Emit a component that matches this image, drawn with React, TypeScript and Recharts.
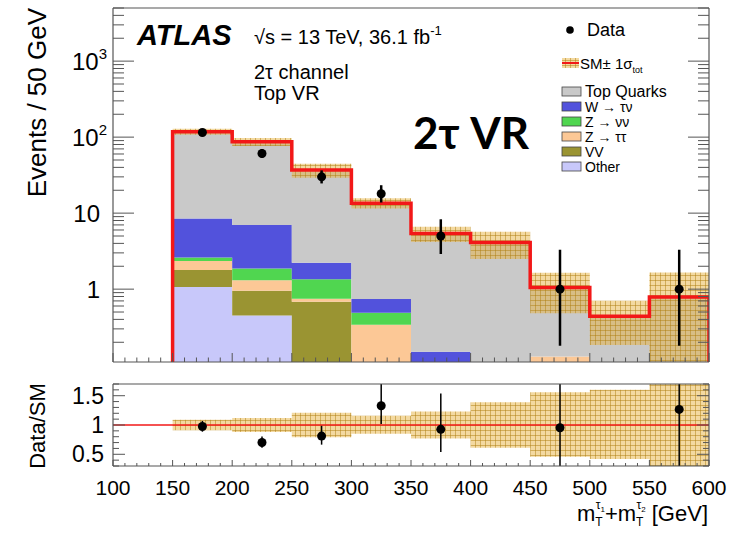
import React from 'react';
import { ComposedChart, Area, Line, Scatter, ErrorBar, XAxis, YAxis, ReferenceLine } from 'recharts';

// bins of m_T(tau1)+m_T(tau2), 50 GeV wide
const BIN_LOW = [150, 200, 250, 300, 350, 400, 450, 500, 550];
const X_MAX = 600;

// stacked backgrounds, events per bin (bottom of the stack first)
const OTHER = [1.07, 0.45, 0.05, 0, 0, 0, 0, 0, 0];
const VV = [0.71, 0.5, 0.63, 0, 0, 0, 0, 0, 0];
const Z_TAUTAU = [0.56, 0.36, 0.07, 0.34, 0, 0, 0.13, 0, 0];
const Z_NUNU = [0.26, 0.56, 0.6, 0.15, 0, 0, 0, 0, 0];
const W_TAUNU = [5.9, 5.1, 0.87, 0.25, 0.15, 0, 0, 0, 0];
const TOP_QUARKS = [109.5, 80, 34.8, 12.8, 5.25, 4.1, 0.92, 0.44, 0.79];

// observed data with asymmetric errors
const DATA = [115, 61, 30, 18, 5, null, 1, null, 1];
const DATA_ERR_DOWN = [10.5, 7.8, 5.4, 4.2, 2.1, null, 0.82, null, 0.82];
const DATA_ERR_UP = [11.2, 8.8, 6.5, 5.3, 3.3, null, 2.3, null, 2.3];

// SM +- 1 sigma_tot band, relative to SM
const BAND_LO = [0.91, 0.88, 0.79, 0.85, 0.77, 0.61, 0.46, 0.42, 0.14];
const BAND_HI = [1.09, 1.12, 1.21, 1.16, 1.23, 1.39, 1.56, 1.6, 2.1];

const X_MAJOR = [100, 150, 200, 250, 300, 350, 400, 450, 500, 550, 600];
const LOG_MAJOR = [1, 10, 100, 1000];
const RATIO_MAJOR = [0.5, 1, 1.5];

const Y_DOMAIN: [number, number] = [0.11, 5000];
const RATIO_DOMAIN: [number, number] = [0.3, 1.7];
const FLOOR = 0.01;

const FONT = "'Liberation Sans', Arial, Helvetica, sans-serif";
const AXIS_COLOR = '#555';
const RED = '#f21818';

const STACK = [
  { key: 'other', name: 'Other', values: OTHER, color: '#c8c8fa' },
  { key: 'vv', name: 'VV', values: VV, color: '#9a9432' },
  { key: 'ztt', name: 'Z → ττ', values: Z_TAUTAU, color: '#fcc896' },
  { key: 'znn', name: 'Z → νν', values: Z_NUNU, color: '#50d650' },
  { key: 'wtn', name: 'W → τν', values: W_TAUNU, color: '#5252dc' },
  { key: 'top', name: 'Top Quarks', values: TOP_QUARKS, color: '#c9c9c9' },
];

const totals = BIN_LOW.map((_, i) => STACK.reduce((s, c) => s + c.values[i], 0));

const rows = BIN_LOW.concat([X_MAX]).map((x, j) => {
  const i = Math.min(j, BIN_LOW.length - 1);
  const row: any = { x };
  let cum = 0;
  STACK.forEach(s => {
    const lo = cum;
    cum += s.values[i];
    row[s.key] = [Math.max(lo, FLOOR), Math.max(cum, FLOOR)];
  });
  row.band = [Math.max(cum * BAND_LO[i], FLOOR), cum * BAND_HI[i]];
  row.ratioBand = [BAND_LO[i], BAND_HI[i]];
  return row;
});

const redLine = [
  { x: BIN_LOW[0], v: FLOOR },
  ...BIN_LOW.map((x, i) => ({ x, v: totals[i] })),
  { x: X_MAX, v: totals[totals.length - 1] },
  { x: X_MAX, v: FLOOR },
];

const dataPoints = BIN_LOW.map((x, i) => ({ x: x + 25, y: DATA[i], err: [DATA_ERR_DOWN[i], DATA_ERR_UP[i]] }))
  .filter(p => p.y !== null);

// ratio points; error bars stop at the panel frame
const ratioPoints = BIN_LOW.map((x, i) => {
  if (DATA[i] === null) return null;
  const r = (DATA[i] as number) / totals[i];
  const down = Math.min((DATA_ERR_DOWN[i] as number) / totals[i], r - RATIO_DOMAIN[0]);
  const up = Math.min((DATA_ERR_UP[i] as number) / totals[i], RATIO_DOMAIN[1] - r);
  return { x: x + 25, y: r, err: [down, up] };
}).filter(p => p !== null);

// tick positions (minor ones included)
const X_TICKS: number[] = [];
for (let v = 100; v <= 600; v += 10) X_TICKS.push(v);
const LOG_TICKS: number[] = [];
for (let e = -1; e <= 3; e++) {
  for (let m = 1; m <= 9; m++) {
    const v = Number((m * Math.pow(10, e)).toPrecision(3));
    if (v >= Y_DOMAIN[0] && v <= Y_DOMAIN[1]) LOG_TICKS.push(v);
  }
}
const RATIO_TICKS: number[] = [];
for (let k = 3; k <= 17; k++) RATIO_TICKS.push(k / 10);

type Side = 'bottom' | 'top' | 'left' | 'right';

const makeTick = (side: Side, majors: number[], majorLen: number, minorLen: number,
  label?: (v: number, x: number, y: number) => React.ReactNode) => (props: any) => {
  const { x, y, payload } = props;
  const v = payload.value;
  const major = majors.some(m => Math.abs(m - v) < 1e-6);
  const len = major ? majorLen : minorLen;
  let x2 = x, y2 = y;
  if (side === 'bottom') y2 = y - len;
  else if (side === 'top') y2 = y + len;
  else if (side === 'left') x2 = x + len;
  else x2 = x - len;
  return (
    <g>
      <line x1={x} y1={y} x2={x2} y2={y2} stroke={AXIS_COLOR} strokeWidth={1} />
      {major && label ? label(v, x, y) : null}
    </g>
  );
};

const logLabel = (v: number, x: number, y: number) => {
  const exp = Math.round(Math.log10(v));
  if (exp < 2) {
    return <text x={x - 13} y={y + 8.5} textAnchor="end" fontSize={24} fontFamily={FONT} fill="#000">{String(v)}</text>;
  }
  return (
    <text x={x - 6} y={y + 8.5} textAnchor="end" fontSize={24} fontFamily={FONT} fill="#000">
      10<tspan fontSize={15} dy={-11}>{exp}</tspan>
    </text>
  );
};

const ratioLabel = (v: number, x: number, y: number) => (
  <text x={x - 9} y={y + 8} textAnchor="end" fontSize={23} fontFamily={FONT} fill="#000">{String(v)}</text>
);

const xLabel = (v: number, x: number, y: number) => (
  <text x={x} y={y + 29} textAnchor="middle" fontSize={21} fontFamily={FONT} fill="#000">{String(v)}</text>
);

const frameAxis = { axisLine: { stroke: AXIS_COLOR, strokeWidth: 1.2 }, tickLine: false, tickSize: 0, tickMargin: 0, interval: 0 as const };

const dot = (p: any) => <circle cx={p.cx} cy={p.cy} r={4.5} fill="#000" />;

const LegendBox: React.FC<{ y: number; color: string; label: string; fs?: number }> = ({ y, color, label, fs = 14 }) => (
  <g>
    <rect x={562} y={y - 10} width={19} height={9} fill={color} stroke="#444" strokeWidth={0.8} />
    <text x={585} y={y} fontSize={fs} fontFamily={FONT} fill="#000">{label}</text>
  </g>
);

const App: React.FC = () => {
  return (
    <div style={{ position: 'absolute', left: 0, top: 0, width: 741, height: 534, background: '#fff', overflow: 'hidden' }}>
      <svg width={0} height={0} style={{ position: 'absolute' }}>
        <defs>
          <pattern id="smband" width={5} height={5} patternUnits="userSpaceOnUse">
            <rect width={5} height={5} fill="#e8b444" fillOpacity={0.5} />
            <path d="M0 0.5H5M0.5 0V5" stroke="#b07f12" strokeOpacity={0.5} strokeWidth={1} />
          </pattern>
        </defs>
      </svg>

      <div style={{ position: 'absolute', left: 0, top: 0 }}>
        <ComposedChart width={741} height={370} data={rows} margin={{ top: 7, right: 31, bottom: 7, left: 112 }}>
          <XAxis dataKey="x" type="number" domain={[100, X_MAX]} allowDataOverflow ticks={X_TICKS} height={1}
            {...frameAxis} tick={makeTick('bottom', X_MAJOR, 9, 4.5)} />
          <XAxis xAxisId="top" orientation="top" type="number" domain={[100, X_MAX]} allowDataOverflow ticks={X_TICKS} height={1}
            {...frameAxis} tick={makeTick('top', X_MAJOR, 9, 4.5)} />
          <YAxis type="number" scale="log" domain={Y_DOMAIN} allowDataOverflow ticks={LOG_TICKS} width={1}
            {...frameAxis} tick={makeTick('left', LOG_MAJOR, 21, 11, logLabel)} />
          <YAxis yAxisId="right" orientation="right" type="number" scale="log" domain={Y_DOMAIN} allowDataOverflow ticks={LOG_TICKS} width={1}
            {...frameAxis} tick={makeTick('right', LOG_MAJOR, 21, 11)} />
          {STACK.map(s => (
            <Area key={s.key} dataKey={s.key} type="stepAfter" stroke="none" fill={s.color} fillOpacity={1}
              isAnimationActive={false} dot={false} activeDot={false} />
          ))}
          <Area dataKey="band" type="stepAfter" stroke="none" fill="url(#smband)" fillOpacity={1}
            isAnimationActive={false} dot={false} activeDot={false} />
          <Line data={redLine} dataKey="v" type="stepAfter" stroke={RED} strokeWidth={3.5} dot={false}
            activeDot={false} isAnimationActive={false} />
          <Scatter data={dataPoints} dataKey="y" shape={dot} isAnimationActive={false}>
            <ErrorBar dataKey="err" direction="y" width={0} stroke="#000" strokeWidth={2.5} isAnimationActive={false} />
          </Scatter>
        </ComposedChart>
      </div>

      <div style={{ position: 'absolute', left: 0, top: 370 }}>
        <ComposedChart width={741} height={164} data={rows} margin={{ top: 13, right: 31, bottom: 67, left: 112 }}>
          <XAxis dataKey="x" type="number" domain={[100, X_MAX]} allowDataOverflow ticks={X_TICKS} height={1}
            {...frameAxis} tick={makeTick('bottom', X_MAJOR, 6, 3, xLabel)} />
          <XAxis xAxisId="top" orientation="top" type="number" domain={[100, X_MAX]} allowDataOverflow ticks={X_TICKS} height={1}
            {...frameAxis} tick={makeTick('top', X_MAJOR, 6, 3)} />
          <YAxis type="number" domain={RATIO_DOMAIN} allowDataOverflow ticks={RATIO_TICKS} width={1}
            {...frameAxis} tick={makeTick('left', RATIO_MAJOR, 12, 6, ratioLabel)} />
          <YAxis yAxisId="right" orientation="right" type="number" domain={RATIO_DOMAIN} allowDataOverflow ticks={RATIO_TICKS} width={1}
            {...frameAxis} tick={makeTick('right', RATIO_MAJOR, 12, 6)} />
          <Area dataKey="ratioBand" type="stepAfter" stroke="none" fill="url(#smband)" fillOpacity={1}
            isAnimationActive={false} dot={false} activeDot={false} />
          <ReferenceLine y={1} stroke={RED} strokeWidth={1.5} />
          <Scatter data={ratioPoints} dataKey="y" shape={dot} isAnimationActive={false}>
            <ErrorBar dataKey="err" direction="y" width={0} stroke="#000" strokeWidth={1.5} isAnimationActive={false} />
          </Scatter>
        </ComposedChart>
      </div>

      <svg width={741} height={534} style={{ position: 'absolute', left: 0, top: 0, pointerEvents: 'none' }}>
        <text transform="translate(46,8) rotate(-90)" textAnchor="end" fontSize={26} fontFamily={FONT} fill="#000">Events / 50 GeV</text>
        <text transform="translate(45,426) rotate(-90)" textAnchor="middle" fontSize={22} fontFamily={FONT} fill="#000">Data/SM</text>
        <text x={708} y={521} textAnchor="end" fontSize={22} fontFamily={FONT} fill="#000">
          m<tspan fontSize={12} dy={5}>T</tspan><tspan fontSize={12} dx={-7} dy={-17}>τ</tspan><tspan fontSize={8} dy={3}>1</tspan>
          <tspan dy={9}>+m</tspan><tspan fontSize={12} dy={5}>T</tspan><tspan fontSize={12} dx={-7} dy={-17}>τ</tspan><tspan fontSize={8} dy={3}>2</tspan>
          <tspan dy={9}> [GeV]</tspan>
        </text>

        <text x={137} y={45} fontSize={29} fontWeight="bold" fontStyle="italic" fontFamily={FONT} fill="#000">ATLAS</text>
        <text x={254} y={44} fontSize={20} fontFamily={FONT} fill="#000">
          √s = 13 TeV, 36.1 fb<tspan fontSize={13} dy={-9}>-1</tspan>
        </text>
        <text x={254} y={79} fontSize={20} fontFamily={FONT} fill="#000">2τ channel</text>
        <text x={254} y={100} fontSize={20} fontFamily={FONT} fill="#000">Top VR</text>
        <text x={413} y={149} fontSize={44} fontWeight="bold" fontFamily="Lato, 'Open Sans', sans-serif" fill="#000">2τ VR</text>

        <circle cx={570} cy={30} r={3.8} fill="#000" />
        <text x={587} y={36} fontSize={18} fontFamily={FONT} fill="#000">Data</text>
        <rect x={562} y={58} width={17} height={10} fill="url(#smband)" />
        <line x1={562} y1={63} x2={579} y2={63} stroke={RED} strokeWidth={2} />
        <text x={580} y={69} fontSize={15} fontFamily={FONT} fill="#000">
          SM± 1σ<tspan fontSize={9} dy={4}>tot</tspan>
        </text>
        <LegendBox y={97} color={STACK[5].color} label={STACK[5].name} fs={16} />
        <LegendBox y={112} color={STACK[4].color} label={STACK[4].name} />
        <LegendBox y={127} color={STACK[3].color} label={STACK[3].name} />
        <LegendBox y={142} color={STACK[2].color} label={STACK[2].name} />
        <LegendBox y={157} color={STACK[1].color} label={STACK[1].name} />
        <LegendBox y={172} color={STACK[0].color} label={STACK[0].name} />
      </svg>
    </div>
  );
};

export default App;
